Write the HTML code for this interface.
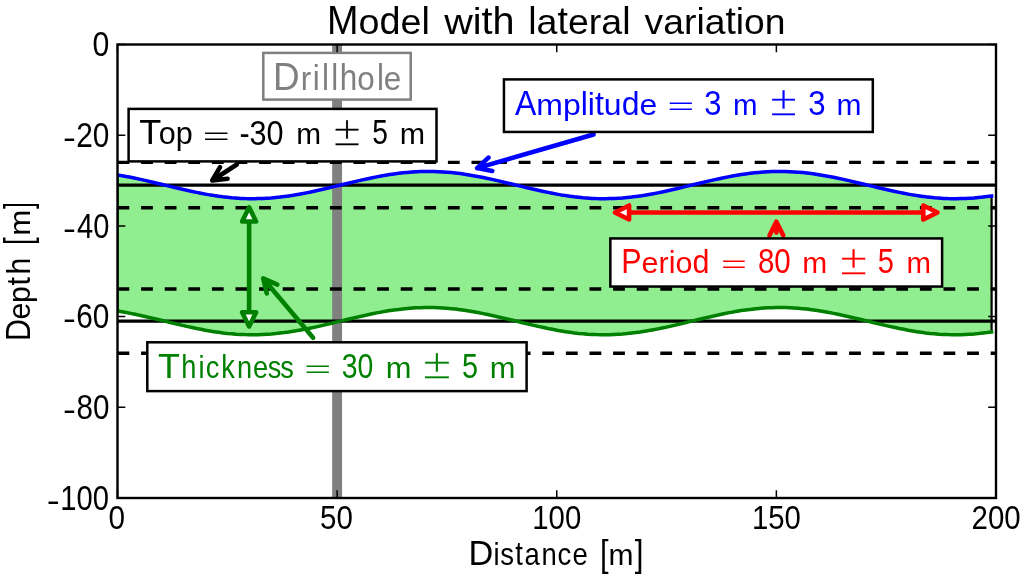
<!DOCTYPE html>
<html lang="en"><head><meta charset="utf-8"><title>Model with lateral variation</title>
<style>
html,body{margin:0;padding:0;background:#fff;overflow:hidden}
svg{display:block}
text{font-family:"Liberation Sans", sans-serif;white-space:pre}
.m{font-family:"DejaVu Sans", sans-serif;font-weight:200}
</style>
</head><body>
<svg width="1024" height="576" viewBox="0 0 1024 576">
<rect width="1024" height="576" fill="#fff"/>
<defs><clipPath id="ax"><rect x="117.5" y="44.5" width="878.5" height="453.5"/></clipPath></defs>
<g clip-path="url(#ax)">
<path d="M117.5 174.9 L121.9 175.7 L126.3 176.5 L130.7 177.3 L135.1 178.2 L139.5 179.1 L143.9 180.1 L148.2 181.1 L152.6 182.2 L157.0 183.2 L161.4 184.3 L165.8 185.4 L170.2 186.4 L174.6 187.5 L179.0 188.5 L183.4 189.5 L187.8 190.5 L192.2 191.5 L196.6 192.4 L201.0 193.3 L205.3 194.1 L209.7 194.9 L214.1 195.6 L218.5 196.2 L222.9 196.8 L227.3 197.3 L231.7 197.8 L236.1 198.1 L240.5 198.4 L244.9 198.6 L249.3 198.7 L253.7 198.7 L258.1 198.6 L262.5 198.5 L266.8 198.2 L271.2 197.9 L275.6 197.5 L280.0 197.1 L284.4 196.5 L288.8 195.9 L293.2 195.3 L297.6 194.5 L302.0 193.7 L306.4 192.9 L310.8 192.0 L315.2 191.0 L319.6 190.0 L323.9 189.0 L328.3 188.0 L332.7 186.9 L337.1 185.9 L341.5 184.8 L345.9 183.8 L350.3 182.7 L354.7 181.6 L359.1 180.6 L363.5 179.6 L367.9 178.7 L372.3 177.8 L376.7 176.9 L381.1 176.0 L385.4 175.3 L389.8 174.6 L394.2 173.9 L398.6 173.3 L403.0 172.8 L407.4 172.4 L411.8 172.1 L416.2 171.8 L420.6 171.6 L425.0 171.5 L429.4 171.5 L433.8 171.5 L438.2 171.7 L442.5 171.9 L446.9 172.2 L451.3 172.6 L455.7 173.1 L460.1 173.6 L464.5 174.2 L468.9 174.9 L473.3 175.7 L477.7 176.5 L482.1 177.3 L486.5 178.2 L490.9 179.1 L495.3 180.1 L499.6 181.1 L504.0 182.2 L508.4 183.2 L512.8 184.3 L517.2 185.4 L521.6 186.4 L526.0 187.5 L530.4 188.5 L534.8 189.5 L539.2 190.5 L543.6 191.5 L548.0 192.4 L552.4 193.3 L556.8 194.1 L561.1 194.9 L565.5 195.6 L569.9 196.2 L574.3 196.8 L578.7 197.3 L583.1 197.8 L587.5 198.1 L591.9 198.4 L596.3 198.6 L600.7 198.7 L605.1 198.7 L609.5 198.6 L613.9 198.5 L618.2 198.2 L622.6 197.9 L627.0 197.5 L631.4 197.1 L635.8 196.5 L640.2 195.9 L644.6 195.3 L649.0 194.5 L653.4 193.7 L657.8 192.9 L662.2 192.0 L666.6 191.0 L671.0 190.0 L675.3 189.0 L679.7 188.0 L684.1 186.9 L688.5 185.9 L692.9 184.8 L697.3 183.8 L701.7 182.7 L706.1 181.6 L710.5 180.6 L714.9 179.6 L719.3 178.7 L723.7 177.8 L728.1 176.9 L732.5 176.0 L736.8 175.3 L741.2 174.6 L745.6 173.9 L750.0 173.3 L754.4 172.8 L758.8 172.4 L763.2 172.1 L767.6 171.8 L772.0 171.6 L776.4 171.5 L780.8 171.5 L785.2 171.5 L789.6 171.7 L793.9 171.9 L798.3 172.2 L802.7 172.6 L807.1 173.1 L811.5 173.6 L815.9 174.2 L820.3 174.9 L824.7 175.7 L829.1 176.5 L833.5 177.3 L837.9 178.2 L842.3 179.1 L846.7 180.1 L851.0 181.1 L855.4 182.2 L859.8 183.2 L864.2 184.3 L868.6 185.4 L873.0 186.4 L877.4 187.5 L881.8 188.5 L886.2 189.5 L890.6 190.5 L895.0 191.5 L899.4 192.4 L903.8 193.3 L908.1 194.1 L912.5 194.9 L916.9 195.6 L921.3 196.2 L925.7 196.8 L930.1 197.3 L934.5 197.8 L938.9 198.1 L943.3 198.4 L947.7 198.6 L952.1 198.7 L956.5 198.7 L960.9 198.6 L965.3 198.5 L969.6 198.2 L974.0 197.9 L978.4 197.5 L982.8 197.1 L987.2 196.5 L991.6 195.9 L991.6 332.0 L987.2 332.6 L982.8 333.1 L978.4 333.6 L974.0 334.0 L969.6 334.3 L965.3 334.5 L960.9 334.7 L956.5 334.7 L952.1 334.7 L947.7 334.6 L943.3 334.4 L938.9 334.2 L934.5 333.8 L930.1 333.4 L925.7 332.9 L921.3 332.3 L916.9 331.7 L912.5 330.9 L908.1 330.2 L903.8 329.3 L899.4 328.5 L895.0 327.5 L890.6 326.6 L886.2 325.6 L881.8 324.6 L877.4 323.5 L873.0 322.5 L868.6 321.4 L864.2 320.3 L859.8 319.3 L855.4 318.2 L851.0 317.2 L846.7 316.2 L842.3 315.2 L837.9 314.3 L833.5 313.4 L829.1 312.5 L824.7 311.7 L820.3 311.0 L815.9 310.3 L811.5 309.7 L807.1 309.1 L802.7 308.7 L798.3 308.3 L793.9 308.0 L789.6 307.7 L785.2 307.6 L780.8 307.5 L776.4 307.6 L772.0 307.7 L767.6 307.8 L763.2 308.1 L758.8 308.5 L754.4 308.9 L750.0 309.4 L745.6 310.0 L741.2 310.6 L736.8 311.3 L732.5 312.1 L728.1 312.9 L723.7 313.8 L719.3 314.7 L714.9 315.7 L710.5 316.7 L706.1 317.7 L701.7 318.7 L697.3 319.8 L692.9 320.9 L688.5 321.9 L684.1 323.0 L679.7 324.1 L675.3 325.1 L671.0 326.1 L666.6 327.1 L662.2 328.0 L657.8 328.9 L653.4 329.8 L649.0 330.6 L644.6 331.3 L640.2 332.0 L635.8 332.6 L631.4 333.1 L627.0 333.6 L622.6 334.0 L618.2 334.3 L613.9 334.5 L609.5 334.7 L605.1 334.7 L600.7 334.7 L596.3 334.6 L591.9 334.4 L587.5 334.2 L583.1 333.8 L578.7 333.4 L574.3 332.9 L569.9 332.3 L565.5 331.7 L561.1 330.9 L556.8 330.2 L552.4 329.3 L548.0 328.5 L543.6 327.5 L539.2 326.6 L534.8 325.6 L530.4 324.6 L526.0 323.5 L521.6 322.5 L517.2 321.4 L512.8 320.3 L508.4 319.3 L504.0 318.2 L499.6 317.2 L495.3 316.2 L490.9 315.2 L486.5 314.3 L482.1 313.4 L477.7 312.5 L473.3 311.7 L468.9 311.0 L464.5 310.3 L460.1 309.7 L455.7 309.1 L451.3 308.7 L446.9 308.3 L442.5 308.0 L438.2 307.7 L433.8 307.6 L429.4 307.5 L425.0 307.6 L420.6 307.7 L416.2 307.8 L411.8 308.1 L407.4 308.5 L403.0 308.9 L398.6 309.4 L394.2 310.0 L389.8 310.6 L385.4 311.3 L381.1 312.1 L376.7 312.9 L372.3 313.8 L367.9 314.7 L363.5 315.7 L359.1 316.7 L354.7 317.7 L350.3 318.7 L345.9 319.8 L341.5 320.9 L337.1 321.9 L332.7 323.0 L328.3 324.1 L323.9 325.1 L319.6 326.1 L315.2 327.1 L310.8 328.0 L306.4 328.9 L302.0 329.8 L297.6 330.6 L293.2 331.3 L288.8 332.0 L284.4 332.6 L280.0 333.1 L275.6 333.6 L271.2 334.0 L266.8 334.3 L262.5 334.5 L258.1 334.7 L253.7 334.7 L249.3 334.7 L244.9 334.6 L240.5 334.4 L236.1 334.2 L231.7 333.8 L227.3 333.4 L222.9 332.9 L218.5 332.3 L214.1 331.7 L209.7 330.9 L205.3 330.2 L201.0 329.3 L196.6 328.5 L192.2 327.5 L187.8 326.6 L183.4 325.6 L179.0 324.6 L174.6 323.5 L170.2 322.5 L165.8 321.4 L161.4 320.3 L157.0 319.3 L152.6 318.2 L148.2 317.2 L143.9 316.2 L139.5 315.2 L135.1 314.3 L130.7 313.4 L126.3 312.5 L121.9 311.7 L117.5 311.0 Z" fill="#90ee90" stroke="#000" stroke-width="2.2"/>
<line x1="337.12" x2="337.12" y1="44.5" y2="498.0" stroke="#808080" stroke-width="9.9"/>
<line x1="117.5" x2="996.0" y1="185.09" y2="185.09" stroke="#000" stroke-width="3.4"/>
<line x1="117.5" x2="996.0" y1="321.13" y2="321.13" stroke="#000" stroke-width="3.4"/>
<line x1="117.5" x2="996.0" y1="162.41" y2="162.41" stroke="#000" stroke-width="3.4" stroke-dasharray="11.8 11.8"/>
<line x1="117.5" x2="996.0" y1="207.76" y2="207.76" stroke="#000" stroke-width="3.4" stroke-dasharray="11.8 11.8"/>
<line x1="117.5" x2="996.0" y1="289.07" y2="289.07" stroke="#000" stroke-width="3.4" stroke-dasharray="11.8 11.8"/>
<line x1="117.5" x2="996.0" y1="353.20" y2="353.20" stroke="#000" stroke-width="3.4" stroke-dasharray="11.8 11.8"/>
<path d="M117.5 174.9 L121.9 175.7 L126.3 176.5 L130.7 177.3 L135.1 178.2 L139.5 179.1 L143.9 180.1 L148.2 181.1 L152.6 182.2 L157.0 183.2 L161.4 184.3 L165.8 185.4 L170.2 186.4 L174.6 187.5 L179.0 188.5 L183.4 189.5 L187.8 190.5 L192.2 191.5 L196.6 192.4 L201.0 193.3 L205.3 194.1 L209.7 194.9 L214.1 195.6 L218.5 196.2 L222.9 196.8 L227.3 197.3 L231.7 197.8 L236.1 198.1 L240.5 198.4 L244.9 198.6 L249.3 198.7 L253.7 198.7 L258.1 198.6 L262.5 198.5 L266.8 198.2 L271.2 197.9 L275.6 197.5 L280.0 197.1 L284.4 196.5 L288.8 195.9 L293.2 195.3 L297.6 194.5 L302.0 193.7 L306.4 192.9 L310.8 192.0 L315.2 191.0 L319.6 190.0 L323.9 189.0 L328.3 188.0 L332.7 186.9 L337.1 185.9 L341.5 184.8 L345.9 183.8 L350.3 182.7 L354.7 181.6 L359.1 180.6 L363.5 179.6 L367.9 178.7 L372.3 177.8 L376.7 176.9 L381.1 176.0 L385.4 175.3 L389.8 174.6 L394.2 173.9 L398.6 173.3 L403.0 172.8 L407.4 172.4 L411.8 172.1 L416.2 171.8 L420.6 171.6 L425.0 171.5 L429.4 171.5 L433.8 171.5 L438.2 171.7 L442.5 171.9 L446.9 172.2 L451.3 172.6 L455.7 173.1 L460.1 173.6 L464.5 174.2 L468.9 174.9 L473.3 175.7 L477.7 176.5 L482.1 177.3 L486.5 178.2 L490.9 179.1 L495.3 180.1 L499.6 181.1 L504.0 182.2 L508.4 183.2 L512.8 184.3 L517.2 185.4 L521.6 186.4 L526.0 187.5 L530.4 188.5 L534.8 189.5 L539.2 190.5 L543.6 191.5 L548.0 192.4 L552.4 193.3 L556.8 194.1 L561.1 194.9 L565.5 195.6 L569.9 196.2 L574.3 196.8 L578.7 197.3 L583.1 197.8 L587.5 198.1 L591.9 198.4 L596.3 198.6 L600.7 198.7 L605.1 198.7 L609.5 198.6 L613.9 198.5 L618.2 198.2 L622.6 197.9 L627.0 197.5 L631.4 197.1 L635.8 196.5 L640.2 195.9 L644.6 195.3 L649.0 194.5 L653.4 193.7 L657.8 192.9 L662.2 192.0 L666.6 191.0 L671.0 190.0 L675.3 189.0 L679.7 188.0 L684.1 186.9 L688.5 185.9 L692.9 184.8 L697.3 183.8 L701.7 182.7 L706.1 181.6 L710.5 180.6 L714.9 179.6 L719.3 178.7 L723.7 177.8 L728.1 176.9 L732.5 176.0 L736.8 175.3 L741.2 174.6 L745.6 173.9 L750.0 173.3 L754.4 172.8 L758.8 172.4 L763.2 172.1 L767.6 171.8 L772.0 171.6 L776.4 171.5 L780.8 171.5 L785.2 171.5 L789.6 171.7 L793.9 171.9 L798.3 172.2 L802.7 172.6 L807.1 173.1 L811.5 173.6 L815.9 174.2 L820.3 174.9 L824.7 175.7 L829.1 176.5 L833.5 177.3 L837.9 178.2 L842.3 179.1 L846.7 180.1 L851.0 181.1 L855.4 182.2 L859.8 183.2 L864.2 184.3 L868.6 185.4 L873.0 186.4 L877.4 187.5 L881.8 188.5 L886.2 189.5 L890.6 190.5 L895.0 191.5 L899.4 192.4 L903.8 193.3 L908.1 194.1 L912.5 194.9 L916.9 195.6 L921.3 196.2 L925.7 196.8 L930.1 197.3 L934.5 197.8 L938.9 198.1 L943.3 198.4 L947.7 198.6 L952.1 198.7 L956.5 198.7 L960.9 198.6 L965.3 198.5 L969.6 198.2 L974.0 197.9 L978.4 197.5 L982.8 197.1 L987.2 196.5 L991.6 195.9" fill="none" stroke="#00f" stroke-width="3.5" stroke-linejoin="round" stroke-linecap="square"/>
<path d="M117.5 311.0 L121.9 311.7 L126.3 312.5 L130.7 313.4 L135.1 314.3 L139.5 315.2 L143.9 316.2 L148.2 317.2 L152.6 318.2 L157.0 319.3 L161.4 320.3 L165.8 321.4 L170.2 322.5 L174.6 323.5 L179.0 324.6 L183.4 325.6 L187.8 326.6 L192.2 327.5 L196.6 328.5 L201.0 329.3 L205.3 330.2 L209.7 330.9 L214.1 331.7 L218.5 332.3 L222.9 332.9 L227.3 333.4 L231.7 333.8 L236.1 334.2 L240.5 334.4 L244.9 334.6 L249.3 334.7 L253.7 334.7 L258.1 334.7 L262.5 334.5 L266.8 334.3 L271.2 334.0 L275.6 333.6 L280.0 333.1 L284.4 332.6 L288.8 332.0 L293.2 331.3 L297.6 330.6 L302.0 329.8 L306.4 328.9 L310.8 328.0 L315.2 327.1 L319.6 326.1 L323.9 325.1 L328.3 324.1 L332.7 323.0 L337.1 321.9 L341.5 320.9 L345.9 319.8 L350.3 318.7 L354.7 317.7 L359.1 316.7 L363.5 315.7 L367.9 314.7 L372.3 313.8 L376.7 312.9 L381.1 312.1 L385.4 311.3 L389.8 310.6 L394.2 310.0 L398.6 309.4 L403.0 308.9 L407.4 308.5 L411.8 308.1 L416.2 307.8 L420.6 307.7 L425.0 307.6 L429.4 307.5 L433.8 307.6 L438.2 307.7 L442.5 308.0 L446.9 308.3 L451.3 308.7 L455.7 309.1 L460.1 309.7 L464.5 310.3 L468.9 311.0 L473.3 311.7 L477.7 312.5 L482.1 313.4 L486.5 314.3 L490.9 315.2 L495.3 316.2 L499.6 317.2 L504.0 318.2 L508.4 319.3 L512.8 320.3 L517.2 321.4 L521.6 322.5 L526.0 323.5 L530.4 324.6 L534.8 325.6 L539.2 326.6 L543.6 327.5 L548.0 328.5 L552.4 329.3 L556.8 330.2 L561.1 330.9 L565.5 331.7 L569.9 332.3 L574.3 332.9 L578.7 333.4 L583.1 333.8 L587.5 334.2 L591.9 334.4 L596.3 334.6 L600.7 334.7 L605.1 334.7 L609.5 334.7 L613.9 334.5 L618.2 334.3 L622.6 334.0 L627.0 333.6 L631.4 333.1 L635.8 332.6 L640.2 332.0 L644.6 331.3 L649.0 330.6 L653.4 329.8 L657.8 328.9 L662.2 328.0 L666.6 327.1 L671.0 326.1 L675.3 325.1 L679.7 324.1 L684.1 323.0 L688.5 321.9 L692.9 320.9 L697.3 319.8 L701.7 318.7 L706.1 317.7 L710.5 316.7 L714.9 315.7 L719.3 314.7 L723.7 313.8 L728.1 312.9 L732.5 312.1 L736.8 311.3 L741.2 310.6 L745.6 310.0 L750.0 309.4 L754.4 308.9 L758.8 308.5 L763.2 308.1 L767.6 307.8 L772.0 307.7 L776.4 307.6 L780.8 307.5 L785.2 307.6 L789.6 307.7 L793.9 308.0 L798.3 308.3 L802.7 308.7 L807.1 309.1 L811.5 309.7 L815.9 310.3 L820.3 311.0 L824.7 311.7 L829.1 312.5 L833.5 313.4 L837.9 314.3 L842.3 315.2 L846.7 316.2 L851.0 317.2 L855.4 318.2 L859.8 319.3 L864.2 320.3 L868.6 321.4 L873.0 322.5 L877.4 323.5 L881.8 324.6 L886.2 325.6 L890.6 326.6 L895.0 327.5 L899.4 328.5 L903.8 329.3 L908.1 330.2 L912.5 330.9 L916.9 331.7 L921.3 332.3 L925.7 332.9 L930.1 333.4 L934.5 333.8 L938.9 334.2 L943.3 334.4 L947.7 334.6 L952.1 334.7 L956.5 334.7 L960.9 334.7 L965.3 334.5 L969.6 334.3 L974.0 334.0 L978.4 333.6 L982.8 333.1 L987.2 332.6 L991.6 332.0" fill="none" stroke="#008000" stroke-width="3.5" stroke-linejoin="round" stroke-linecap="square"/>
</g>
<path d="M236.80 164.50 L212.23 180.45 M227.56 178.72 L212.23 180.45 L220.05 167.15" stroke="#000" stroke-width="4.6" fill="none" stroke-linecap="round" stroke-linejoin="round"/>
<path d="M593.50 134.50 L477.11 168.11 M492.28 170.91 L477.11 168.11 L488.45 157.65" stroke="#00f" stroke-width="4.6" fill="none" stroke-linecap="round" stroke-linejoin="round"/>
<path d="M313.10 337.80 L263.18 278.46 M266.78 293.46 L263.18 278.46 L277.34 284.58" stroke="#008000" stroke-width="4.6" fill="none" stroke-linecap="round" stroke-linejoin="round"/>
<path d="M776.40 232.60 L776.40 221.70 M769.50 235.50 L776.40 221.70 L783.30 235.50" stroke="#f00" stroke-width="4.6" fill="none" stroke-linecap="round" stroke-linejoin="round"/>
<line x1="249.1" x2="249.1" y1="221.50" y2="312.30" stroke="#008000" stroke-width="4.6"/>
<path d="M249.10 207.30 L256.10 221.50 L242.10 221.50 Z" fill="#fff" stroke="#008000" stroke-width="4.6" stroke-linejoin="round"/>
<path d="M249.10 326.50 L242.10 312.30 L256.10 312.30 Z" fill="#fff" stroke="#008000" stroke-width="4.6" stroke-linejoin="round"/>
<line x1="629.10" x2="923.30" y1="212.5" y2="212.5" stroke="#f00" stroke-width="4.6"/>
<path d="M614.90 212.50 L629.10 205.50 L629.10 219.50 Z" fill="#fff" stroke="#f00" stroke-width="4.6" stroke-linejoin="round"/>
<path d="M937.50 212.50 L923.30 219.50 L923.30 205.50 Z" fill="#fff" stroke="#f00" stroke-width="4.6" stroke-linejoin="round"/>
<rect x="263.30" y="52.90" width="147.40" height="46.70" fill="#fff" stroke="#808080" stroke-width="2.5"/>
<rect x="128.60" y="108.90" width="307.90" height="52.50" fill="#fff" stroke="#000" stroke-width="2.5"/>
<rect x="503.95" y="79.40" width="368.85" height="52.55" fill="#fff" stroke="#000" stroke-width="2.5"/>
<rect x="610.35" y="238.45" width="331.75" height="48.10" fill="#fff" stroke="#000" stroke-width="2.5"/>
<rect x="147.30" y="342.30" width="379.30" height="48.80" fill="#fff" stroke="#000" stroke-width="2.5"/>
<text fill="#808080"><tspan x="273.11" y="89.50" font-size="39.13" textLength="26.63" lengthAdjust="spacingAndGlyphs">D</tspan><tspan x="300.85" y="89.50" font-size="33.88" textLength="10.47" lengthAdjust="spacingAndGlyphs">r</tspan><tspan x="312.85" y="89.50" font-size="35.61" textLength="6.98" lengthAdjust="spacingAndGlyphs">i</tspan><tspan x="322.08" y="89.50" font-size="37.17" textLength="6.98" lengthAdjust="spacingAndGlyphs">l</tspan><tspan x="331.25" y="89.50" font-size="37.17" textLength="6.98" lengthAdjust="spacingAndGlyphs">l</tspan><tspan x="339.82" y="89.50" font-size="37.17" textLength="17.49" lengthAdjust="spacingAndGlyphs">h</tspan><tspan x="357.29" y="89.50" font-size="33.88" textLength="17.49" lengthAdjust="spacingAndGlyphs">o</tspan><tspan x="377.10" y="89.50" font-size="37.17" textLength="6.98" lengthAdjust="spacingAndGlyphs">l</tspan><tspan x="383.83" y="89.50" font-size="33.88" textLength="17.49" lengthAdjust="spacingAndGlyphs">e</tspan></text>
<text fill="#000"><tspan x="139.39" y="144.30" font-size="35.35" textLength="22.06" lengthAdjust="spacingAndGlyphs">T</tspan><tspan x="158.80" y="144.30" font-size="30.61" textLength="17.00" lengthAdjust="spacingAndGlyphs">o</tspan><tspan x="175.80" y="144.30" font-size="30.61" textLength="17.00" lengthAdjust="spacingAndGlyphs">p</tspan> <tspan x="201.24" y="147.63" font-size="38.99" textLength="30.04" lengthAdjust="spacingAndGlyphs" class="m">=</tspan> <tspan x="239.42" y="144.70" font-size="34.79" textLength="44.23" lengthAdjust="spacingAndGlyphs">-30</tspan> <tspan x="296.28" y="144.30" font-size="30.14" textLength="24.87" lengthAdjust="spacingAndGlyphs">m</tspan> <tspan x="332.04" y="144.90" font-size="38.73" textLength="30.04" lengthAdjust="spacingAndGlyphs" class="m" stroke="#000" stroke-width="0.33">±</tspan> <tspan x="372.17" y="144.35" font-size="34.70" textLength="15.69" lengthAdjust="spacingAndGlyphs">5</tspan> <tspan x="399.65" y="144.30" font-size="30.14" textLength="25.35" lengthAdjust="spacingAndGlyphs">m</tspan></text>
<text fill="#00f"><tspan x="515.02" y="114.75" font-size="35.13" textLength="21.33" lengthAdjust="spacingAndGlyphs">A</tspan><tspan x="536.35" y="114.75" font-size="30.42" textLength="26.64" lengthAdjust="spacingAndGlyphs">m</tspan><tspan x="562.99" y="114.75" font-size="30.42" textLength="17.78" lengthAdjust="spacingAndGlyphs">p</tspan><tspan x="580.77" y="114.75" font-size="33.37" textLength="7.10" lengthAdjust="spacingAndGlyphs">l</tspan><tspan x="587.87" y="114.75" font-size="31.97" textLength="7.10" lengthAdjust="spacingAndGlyphs">i</tspan><tspan x="594.98" y="114.75" font-size="32.67" textLength="8.88" lengthAdjust="spacingAndGlyphs">t</tspan><tspan x="603.86" y="114.75" font-size="30.42" textLength="17.78" lengthAdjust="spacingAndGlyphs">u</tspan><tspan x="621.65" y="114.75" font-size="33.37" textLength="17.78" lengthAdjust="spacingAndGlyphs">d</tspan><tspan x="639.43" y="114.75" font-size="30.42" textLength="17.78" lengthAdjust="spacingAndGlyphs">e</tspan> <tspan x="665.89" y="118.08" font-size="38.99" textLength="29.64" lengthAdjust="spacingAndGlyphs" class="m">=</tspan> <tspan x="704.34" y="114.81" font-size="34.20" textLength="17.21" lengthAdjust="spacingAndGlyphs">3</tspan> <tspan x="733.01" y="114.75" font-size="30.14" textLength="24.51" lengthAdjust="spacingAndGlyphs">m</tspan> <tspan x="768.42" y="115.35" font-size="38.73" textLength="30.18" lengthAdjust="spacingAndGlyphs" class="m" stroke="#00f" stroke-width="0.33">±</tspan> <tspan x="808.33" y="114.81" font-size="34.20" textLength="17.33" lengthAdjust="spacingAndGlyphs">3</tspan> <tspan x="836.58" y="114.75" font-size="30.14" textLength="24.99" lengthAdjust="spacingAndGlyphs">m</tspan></text>
<text fill="#f00"><tspan x="621.28" y="273.00" font-size="34.47" textLength="20.36" lengthAdjust="spacingAndGlyphs">P</tspan><tspan x="641.64" y="273.00" font-size="29.85" textLength="16.98" lengthAdjust="spacingAndGlyphs">e</tspan><tspan x="658.62" y="273.00" font-size="29.85" textLength="10.17" lengthAdjust="spacingAndGlyphs">r</tspan><tspan x="668.79" y="273.00" font-size="31.37" textLength="6.78" lengthAdjust="spacingAndGlyphs">i</tspan><tspan x="675.57" y="273.00" font-size="29.85" textLength="16.98" lengthAdjust="spacingAndGlyphs">o</tspan><tspan x="692.55" y="273.00" font-size="32.75" textLength="16.98" lengthAdjust="spacingAndGlyphs">d</tspan> <tspan x="719.49" y="276.33" font-size="38.99" textLength="28.84" lengthAdjust="spacingAndGlyphs" class="m">=</tspan> <tspan x="757.95" y="273.06" font-size="34.20" textLength="32.83" lengthAdjust="spacingAndGlyphs">80</tspan> <tspan x="802.27" y="273.00" font-size="30.14" textLength="24.99" lengthAdjust="spacingAndGlyphs">m</tspan> <tspan x="838.35" y="273.60" font-size="38.73" textLength="30.71" lengthAdjust="spacingAndGlyphs" class="m" stroke="#f00" stroke-width="0.33">±</tspan> <tspan x="877.74" y="273.05" font-size="34.70" textLength="16.16" lengthAdjust="spacingAndGlyphs">5</tspan> <tspan x="906.41" y="273.00" font-size="30.14" textLength="24.51" lengthAdjust="spacingAndGlyphs">m</tspan></text>
<text fill="#008000"><tspan x="158.09" y="377.80" font-size="35.35" textLength="21.95" lengthAdjust="spacingAndGlyphs">T</tspan><tspan x="181.34" y="377.80" font-size="33.58" textLength="15.12" lengthAdjust="spacingAndGlyphs">h</tspan><tspan x="198.48" y="377.80" font-size="32.16" textLength="6.04" lengthAdjust="spacingAndGlyphs">i</tspan><tspan x="205.65" y="377.80" font-size="30.61" textLength="13.59" lengthAdjust="spacingAndGlyphs">c</tspan><tspan x="221.14" y="377.80" font-size="33.58" textLength="13.59" lengthAdjust="spacingAndGlyphs">k</tspan><tspan x="237.07" y="377.80" font-size="30.61" textLength="15.12" lengthAdjust="spacingAndGlyphs">n</tspan><tspan x="252.91" y="377.80" font-size="30.61" textLength="15.12" lengthAdjust="spacingAndGlyphs">e</tspan><tspan x="267.86" y="377.80" font-size="30.61" textLength="13.59" lengthAdjust="spacingAndGlyphs">s</tspan><tspan x="280.36" y="377.80" font-size="30.61" textLength="13.59" lengthAdjust="spacingAndGlyphs">s</tspan> <tspan x="302.65" y="381.13" font-size="38.99" textLength="29.91" lengthAdjust="spacingAndGlyphs" class="m">=</tspan> <tspan x="341.73" y="377.86" font-size="34.20" textLength="31.60" lengthAdjust="spacingAndGlyphs">30</tspan> <tspan x="385.82" y="377.80" font-size="30.14" textLength="25.70" lengthAdjust="spacingAndGlyphs">m</tspan> <tspan x="421.27" y="378.40" font-size="38.73" textLength="31.38" lengthAdjust="spacingAndGlyphs" class="m" stroke="#008000" stroke-width="0.33">±</tspan> <tspan x="461.95" y="377.85" font-size="34.70" textLength="16.04" lengthAdjust="spacingAndGlyphs">5</tspan> <tspan x="489.82" y="377.80" font-size="30.14" textLength="25.70" lengthAdjust="spacingAndGlyphs">m</tspan></text>
<path d="M117.50 44.5 v7.8 M117.50 498.0 v-7.8 M337.12 44.5 v7.8 M337.12 498.0 v-7.8 M556.75 44.5 v7.8 M556.75 498.0 v-7.8 M776.38 44.5 v7.8 M776.38 498.0 v-7.8 M996.00 44.5 v7.8 M996.00 498.0 v-7.8 M117.5 44.50 h7.8 M996.0 44.50 h-7.8 M117.5 135.20 h7.8 M996.0 135.20 h-7.8 M117.5 225.90 h7.8 M996.0 225.90 h-7.8 M117.5 316.60 h7.8 M996.0 316.60 h-7.8 M117.5 407.30 h7.8 M996.0 407.30 h-7.8 M117.5 498.00 h7.8 M996.0 498.00 h-7.8" stroke="#000" stroke-width="1.5"/>
<rect x="117.5" y="44.5" width="878.5" height="453.5" fill="none" stroke="#000" stroke-width="2.4"/>
<text fill="#000"><tspan x="92.54" y="56.26" font-size="34.20" textLength="16.83" lengthAdjust="spacingAndGlyphs">0</tspan></text>
<text fill="#000"><tspan x="63.06" y="147.94" font-size="32.26" textLength="12.91" lengthAdjust="spacingAndGlyphs">-</tspan><tspan x="76.21" y="146.96" font-size="34.20" textLength="33.18" lengthAdjust="spacingAndGlyphs">20</tspan></text>
<text fill="#000"><tspan x="63.06" y="238.64" font-size="32.26" textLength="12.91" lengthAdjust="spacingAndGlyphs">-</tspan><tspan x="77.05" y="237.66" font-size="34.20" textLength="32.31" lengthAdjust="spacingAndGlyphs">40</tspan></text>
<text fill="#000"><tspan x="63.06" y="329.34" font-size="32.26" textLength="12.91" lengthAdjust="spacingAndGlyphs">-</tspan><tspan x="76.21" y="328.36" font-size="34.20" textLength="33.18" lengthAdjust="spacingAndGlyphs">60</tspan></text>
<text fill="#000"><tspan x="63.06" y="420.04" font-size="32.26" textLength="12.91" lengthAdjust="spacingAndGlyphs">-</tspan><tspan x="76.44" y="419.06" font-size="34.20" textLength="32.94" lengthAdjust="spacingAndGlyphs">80</tspan></text>
<text fill="#000"><tspan x="46.84" y="510.74" font-size="32.26" textLength="13.05" lengthAdjust="spacingAndGlyphs">-</tspan><tspan x="60.31" y="509.76" font-size="34.20" textLength="48.71" lengthAdjust="spacingAndGlyphs">100</tspan></text>
<text fill="#000"><tspan x="108.61" y="529.16" font-size="33.92" textLength="16.54" lengthAdjust="spacingAndGlyphs">0</tspan></text>
<text fill="#000"><tspan x="320.12" y="529.16" font-size="33.92" textLength="32.86" lengthAdjust="spacingAndGlyphs">50</tspan></text>
<text fill="#000"><tspan x="532.30" y="529.16" font-size="33.92" textLength="48.93" lengthAdjust="spacingAndGlyphs">100</tspan></text>
<text fill="#000"><tspan x="751.90" y="529.16" font-size="33.92" textLength="48.93" lengthAdjust="spacingAndGlyphs">150</tspan></text>
<text fill="#000"><tspan x="971.53" y="529.16" font-size="33.92" textLength="49.10" lengthAdjust="spacingAndGlyphs">200</tspan></text>
<text fill="#000"><tspan x="327.08" y="34.40" font-size="40.73" textLength="31.48" lengthAdjust="spacingAndGlyphs">M</tspan><tspan x="358.56" y="34.40" font-size="35.27" textLength="21.01" lengthAdjust="spacingAndGlyphs">o</tspan><tspan x="379.57" y="34.40" font-size="38.69" textLength="21.01" lengthAdjust="spacingAndGlyphs">d</tspan><tspan x="400.59" y="34.40" font-size="35.27" textLength="21.01" lengthAdjust="spacingAndGlyphs">e</tspan><tspan x="421.60" y="34.40" font-size="38.69" textLength="8.39" lengthAdjust="spacingAndGlyphs">l</tspan> <tspan x="444.20" y="34.40" font-size="35.27" textLength="28.59" lengthAdjust="spacingAndGlyphs">w</tspan><tspan x="472.79" y="34.40" font-size="37.06" textLength="8.80" lengthAdjust="spacingAndGlyphs">i</tspan><tspan x="481.59" y="34.40" font-size="37.88" textLength="11.00" lengthAdjust="spacingAndGlyphs">t</tspan><tspan x="492.59" y="34.40" font-size="38.69" textLength="22.02" lengthAdjust="spacingAndGlyphs">h</tspan> <tspan x="528.26" y="34.40" font-size="38.69" textLength="8.35" lengthAdjust="spacingAndGlyphs">l</tspan><tspan x="536.61" y="34.40" font-size="35.27" textLength="20.89" lengthAdjust="spacingAndGlyphs">a</tspan><tspan x="557.50" y="34.40" font-size="37.88" textLength="10.44" lengthAdjust="spacingAndGlyphs">t</tspan><tspan x="567.94" y="34.40" font-size="35.27" textLength="20.89" lengthAdjust="spacingAndGlyphs">e</tspan><tspan x="588.83" y="34.40" font-size="35.27" textLength="12.51" lengthAdjust="spacingAndGlyphs">r</tspan><tspan x="601.34" y="34.40" font-size="35.27" textLength="20.89" lengthAdjust="spacingAndGlyphs">a</tspan><tspan x="622.24" y="34.40" font-size="38.69" textLength="8.35" lengthAdjust="spacingAndGlyphs">l</tspan> <tspan x="644.61" y="34.40" font-size="35.27" textLength="18.64" lengthAdjust="spacingAndGlyphs">v</tspan><tspan x="663.25" y="34.40" font-size="35.27" textLength="20.73" lengthAdjust="spacingAndGlyphs">a</tspan><tspan x="683.98" y="34.40" font-size="35.27" textLength="12.41" lengthAdjust="spacingAndGlyphs">r</tspan><tspan x="696.40" y="34.40" font-size="37.06" textLength="8.28" lengthAdjust="spacingAndGlyphs">i</tspan><tspan x="704.68" y="34.40" font-size="35.27" textLength="20.73" lengthAdjust="spacingAndGlyphs">a</tspan><tspan x="725.41" y="34.40" font-size="37.88" textLength="10.36" lengthAdjust="spacingAndGlyphs">t</tspan><tspan x="735.77" y="34.40" font-size="37.06" textLength="8.28" lengthAdjust="spacingAndGlyphs">i</tspan><tspan x="744.05" y="34.40" font-size="35.27" textLength="20.73" lengthAdjust="spacingAndGlyphs">o</tspan><tspan x="764.78" y="34.40" font-size="35.27" textLength="20.73" lengthAdjust="spacingAndGlyphs">n</tspan></text>
<text fill="#000"><tspan x="468.42" y="564.70" font-size="35.20" textLength="24.80" lengthAdjust="spacingAndGlyphs">D</tspan><tspan x="493.62" y="564.70" font-size="32.03" textLength="6.11" lengthAdjust="spacingAndGlyphs">i</tspan><tspan x="500.28" y="564.70" font-size="30.48" textLength="13.75" lengthAdjust="spacingAndGlyphs">s</tspan><tspan x="515.18" y="564.70" font-size="32.74" textLength="7.64" lengthAdjust="spacingAndGlyphs">t</tspan><tspan x="524.54" y="564.70" font-size="30.48" textLength="15.29" lengthAdjust="spacingAndGlyphs">a</tspan><tspan x="541.46" y="564.70" font-size="30.48" textLength="15.29" lengthAdjust="spacingAndGlyphs">n</tspan><tspan x="557.54" y="564.70" font-size="30.48" textLength="13.75" lengthAdjust="spacingAndGlyphs">c</tspan><tspan x="572.55" y="564.70" font-size="30.48" textLength="15.29" lengthAdjust="spacingAndGlyphs">e</tspan> <tspan x="599.96" y="565.73" font-size="37.43" textLength="8.58" lengthAdjust="spacingAndGlyphs">[</tspan><tspan x="608.48" y="564.70" font-size="29.40" textLength="24.99" lengthAdjust="spacingAndGlyphs">m</tspan><tspan x="634.76" y="565.73" font-size="37.43" textLength="8.75" lengthAdjust="spacingAndGlyphs">]</tspan></text>
<text fill="#000" transform="rotate(-90)"><tspan x="-341.11" y="29.90" font-size="35.35" textLength="21.94" lengthAdjust="spacingAndGlyphs">D</tspan><tspan x="-319.49" y="29.90" font-size="30.61" textLength="16.82" lengthAdjust="spacingAndGlyphs">e</tspan><tspan x="-302.97" y="29.90" font-size="30.61" textLength="16.82" lengthAdjust="spacingAndGlyphs">p</tspan><tspan x="-285.49" y="29.90" font-size="32.87" textLength="8.40" lengthAdjust="spacingAndGlyphs">t</tspan><tspan x="-274.42" y="29.90" font-size="33.58" textLength="16.82" lengthAdjust="spacingAndGlyphs">h</tspan> <tspan x="-244.92" y="30.93" font-size="38.39" textLength="7.74" lengthAdjust="spacingAndGlyphs">[</tspan><tspan x="-235.71" y="29.90" font-size="29.77" textLength="26.06" lengthAdjust="spacingAndGlyphs">m</tspan><tspan x="-209.08" y="30.93" font-size="38.39" textLength="6.81" lengthAdjust="spacingAndGlyphs">]</tspan></text>
</svg>
</body></html>
